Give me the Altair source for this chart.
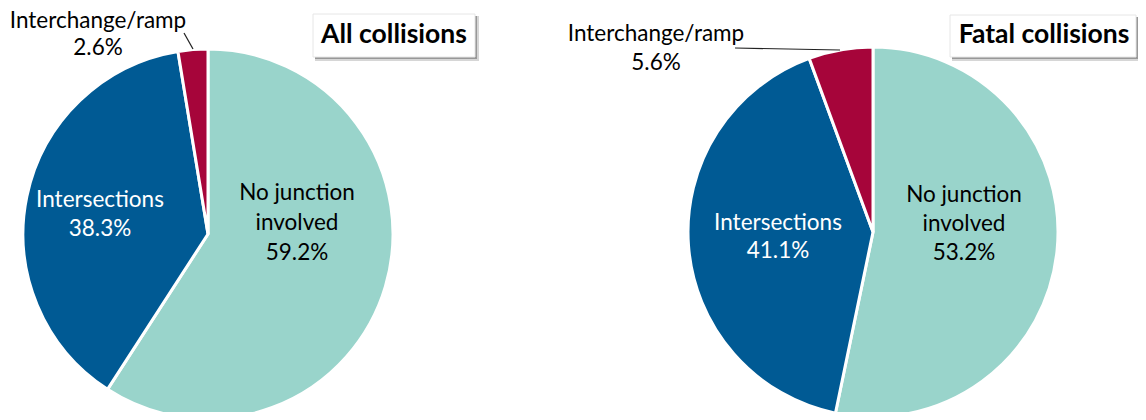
import altair as alt
import pandas as pd

categories = ["No junction involved", "Intersections", "Interchange/ramp"]
all_pct = [59.2, 38.3, 2.6]
fatal_pct = [53.2, 41.1, 5.6]
titles = ["All collisions", "Fatal collisions"]
colors = ["#99D4CB", "#005A94", "#A6053A"]
label_colors = ["#000000", "#FFFFFF", "#000000"]
wraps = {"No junction involved": "No junction\ninvolved"}

FONT = "Lato"
FS = 22.5


def pie_df(vals):
    return pd.DataFrame({
        "category": categories,
        "pct": vals,
        "order": list(range(len(categories))),
        "label": [f"{wraps.get(c, c)}\n{v:.1f}%" for c, v in zip(categories, vals)],
    })


def pie(df, cx, cy, r):
    return alt.Chart(df).mark_arc(outerRadius=r, stroke="white", strokeWidth=3).encode(
        theta=alt.Theta("pct:Q", stack=True),
        color=alt.Color("category:N", scale=alt.Scale(domain=categories, range=colors), legend=None),
        order=alt.Order("order:Q"),
        x=alt.value(cx),
        y=alt.value(cy),
    )


def label(df, idx, x, y, lh, color):
    return alt.Chart(df).transform_filter(alt.datum.category == categories[idx]).mark_text(
        font=FONT, fontSize=FS, lineBreak="\n", lineHeight=lh, align="center",
        baseline="alphabetic", color=color,
    ).encode(text="label:N", x=alt.value(x), y=alt.value(y))


def leader(x1, y1, x2, y2):
    return alt.Chart(pd.DataFrame({"k": [0]})).mark_rule(color="#222222", strokeWidth=1.2).encode(
        x=alt.value(x1), y=alt.value(y1), x2=alt.value(x2), y2=alt.value(y2))


def title_box(text, x0, y0, x1, y1, tx, ty):
    d = pd.DataFrame({"t": [text]})
    shadow2 = alt.Chart(d).mark_rect(color="#bbbbbb", opacity=0.6).encode(
        x=alt.value(x0 + 2), x2=alt.value(x1 + 4), y=alt.value(y0 + 2), y2=alt.value(y1 + 4))
    shadow = alt.Chart(d).mark_rect(color="#888888", opacity=0.8).encode(
        x=alt.value(x0 + 2), x2=alt.value(x1 + 2), y=alt.value(y0 + 2), y2=alt.value(y1 + 2))
    box = alt.Chart(d).mark_rect(color="white", stroke="#e6e6e6", strokeWidth=1).encode(
        x=alt.value(x0), x2=alt.value(x1), y=alt.value(y0), y2=alt.value(y1))
    txt = alt.Chart(d).mark_text(font=FONT, fontSize=26.5, fontWeight="bold", align="center",
                                 baseline="alphabetic", color="black").encode(
        text="t:N", x=alt.value(tx), y=alt.value(ty))
    return [shadow2, shadow, box, txt]


df_all = pie_df(all_pct)
df_fatal = pie_df(fatal_pct)

layers = [
    pie(df_all, 200, 226, 185),
    pie(df_fatal, 865, 224, 185),
    label(df_all, 0, 289, 192, 30, label_colors[0]),
    label(df_all, 1, 92, 199, 29, label_colors[1]),
    label(df_all, 2, 90, 20, 27, label_colors[2]),
    label(df_fatal, 0, 956, 194, 29, label_colors[0]),
    label(df_fatal, 1, 770, 222, 28, label_colors[1]),
    label(df_fatal, 2, 648, 33, 29, label_colors[2]),
    leader(176, 25, 185, 41),
    leader(727, 40, 832, 42),
]
layers += title_box(titles[0], 305, 6, 467, 49, 386, 35)
layers += title_box(titles[1], 942, 7, 1128, 49, 1036, 35)

chart = alt.layer(*layers).resolve_scale(theta="independent").properties(
    width=1130, height=404, padding=0,
    autosize=alt.AutoSizeParams(type="none"),
).configure_view(stroke=None)

chart.save("out.html", embed_options={"renderer": "svg", "actions": False})
